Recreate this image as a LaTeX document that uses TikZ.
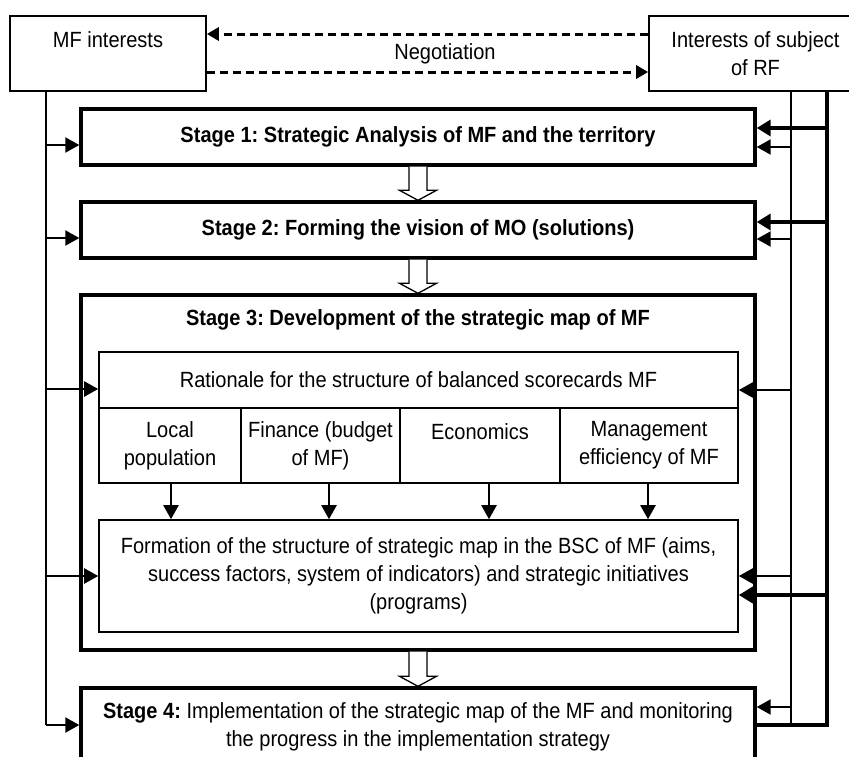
\documentclass[tikz,border=0pt]{standalone}
\usepackage{fontspec}
\setmainfont{Liberation Sans}[FakeStretch=0.91]
\usetikzlibrary{arrows.meta,calc}
\frenchspacing
\newcommand\hollowarrow[2]{%
  \draw[hollow] ($(#1.south)+(-9,0)$) -- ($(#2.north)+(-9,-10)$) -- ($(#2.north)+(-18.5,-10)$) -- (#2.north) -- ($(#2.north)+(18.5,-10)$) -- ($(#2.north)+(9,-10)$) -- ($(#1.south)+(9,0)$);}
\tikzset{
  every node/.style={font=\fontsize{22}{28}\selectfont, align=center, inner sep=0pt},
  thinbox/.style={draw, line width=1.6pt},
  stagebox/.style={draw, line width=3.4pt},
  arr/.style={line width=2.2pt, -{Triangle[length=14pt,width=15pt]}},
  thickarr/.style={line width=4.2pt, -{Triangle[length=14pt,width=16pt]}},
  vline/.style={line width=1.5pt},
  thickline/.style={line width=4.2pt, line join=miter},
  dasharr/.style={line width=3pt, dash pattern=on 8pt off 5pt, -{Triangle[length=12pt,width=13pt]}},
  hollow/.style={line width=1.3pt, fill=white, line join=miter},
}
\begin{document}
\begin{tikzpicture}[x=1pt,y=-1pt]
\fill[white] (0,0) rectangle (849,756);
\useasboundingbox (0,0) rectangle (849,756);
% top boxes
\node[thinbox, minimum width=196pt, minimum height=75pt] (mf) at (108,53.5) {MF interests\\\mbox{}};
\node[thinbox, minimum width=213pt, minimum height=75pt] (rf) at (755.5,53.5) {Interests of subject\\of RF};
\node (neg) at (445,54) {Negotiation};
\draw[dasharr] (rf.west |- 0,34) -- (mf.east |- 0,34);
\draw[dasharr] (mf.east |- 0,72) -- (rf.west |- 0,72);
% stages
\node[stagebox, minimum width=674pt, minimum height=56pt] (s1) at (418,137) {\textbf{Stage 1: Strategic Analysis of MF and the territory}};
\node[stagebox, minimum width=674pt, minimum height=56pt] (s2) at (418,230) {\textbf{Stage 2: Forming the vision of MO (solutions)}};
\node[stagebox, minimum width=674pt, minimum height=355pt] (s3) at (418,472.5) {};
\node (s3t) at (418,320) {\textbf{Stage 3: Development of the strategic map of MF}};
\node[thinbox, minimum width=639pt, minimum height=56pt] (rat) at (418.5,380) {Rationale for the structure of balanced scorecards MF};
\node[thinbox, minimum width=142pt, minimum height=75pt] (c1) at (170,445.5) {Local\\population};
\node[thinbox, minimum width=159pt, minimum height=75pt] (c2) at (320.5,445.5) {Finance (budget\\of MF)};
\node[thinbox, minimum width=160pt, minimum height=75pt] (c3) at (480,445.5) {Economics\\\mbox{}};
\node[thinbox, minimum width=178pt, minimum height=75pt] (c4) at (649,445.5) {Management\\efficiency of MF};
\node[thinbox, minimum width=639pt, minimum height=112pt] (form) at (418.5,576) {Formation of the structure of strategic map in the BSC of MF (aims,\\success factors, system of indicators) and strategic initiatives\\(programs)};
\node[stagebox, minimum width=674pt, minimum height=78pt] (s4) at (418,727) {\textbf{Stage 4:} Implementation of the strategic map of the MF and monitoring\\the progress in the implementation strategy};
% column arrows
\foreach \n/\x in {c1/171,c2/329,c3/489,c4/648}
  \draw[arr] (\n.south -| \x,0) -- (form.north -| \x,0);
% hollow arrows
\hollowarrow{s1}{s2}
\hollowarrow{s2}{s3}
\hollowarrow{s3}{s4}
% left feed line
\coordinate (L0) at (mf.south -| 46,0);
\coordinate (L1) at (46,725);
\draw[vline] (L0) -- (L1);
\foreach \y/\n in {145/s1,238/s2,389/rat,576/form,725/s4}
  \draw[arr] (L0 |- 0,\y) -- (\n.west |- 0,\y);
% right thin line
\coordinate (R0) at (rf.south -| 791,0);
\coordinate (R1) at (791,725);
\draw[vline] (R0) -- (R1);
\foreach \y/\n in {147/s1,239/s2,390/rat,576/form,707/s4}
  \draw[arr] (R0 |- 0,\y) -- (\n.east |- 0,\y);
% right thick line
\coordinate (T0) at (rf.south -| 827,0);
\coordinate (T1) at (827,725);
\draw[thickline] (T0) -- (T1) -- (s4.east |- T1);
\foreach \y/\n in {128/s1,222/s2,595/form}
  \draw[thickarr] (T0 |- 0,\y) -- (\n.east |- 0,\y);
\end{tikzpicture}
\end{document}
